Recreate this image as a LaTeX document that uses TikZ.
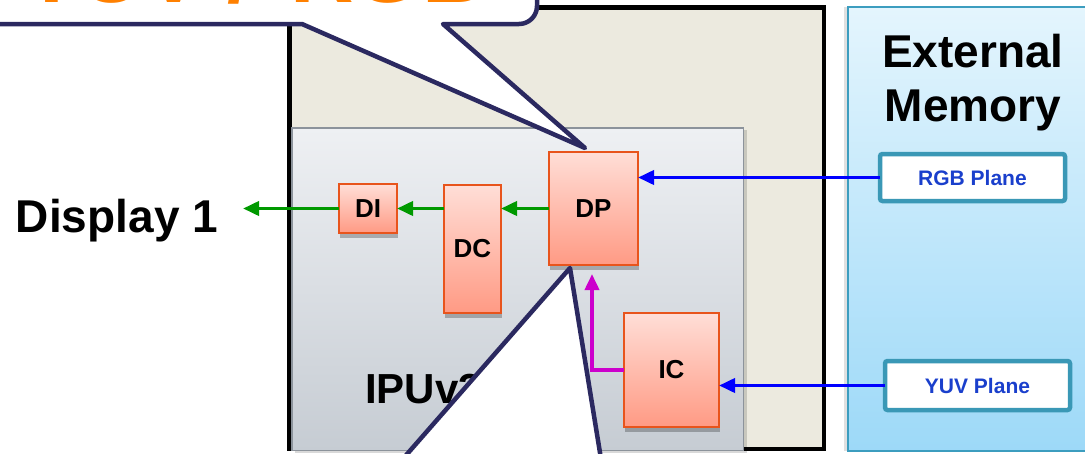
\documentclass[tikz,border=0pt]{standalone}
\usepackage{fontspec}
\setmainfont{Liberation Sans}
\usetikzlibrary{arrows.meta,shadows}

\definecolor{chipfill}{HTML}{ECEADF}
\definecolor{iputop}{HTML}{EEF0F3}
\definecolor{ipubot}{HTML}{C6CCD3}
\definecolor{ipuline}{HTML}{8C939B}
\definecolor{memtop}{HTML}{E4F5FD}
\definecolor{membot}{HTML}{9DD9F8}
\definecolor{memline}{HTML}{3C9DBF}
\definecolor{planeline}{HTML}{3A98B6}
\definecolor{planetext}{HTML}{1A3FCC}
\definecolor{blkline}{HTML}{E8541C}
\definecolor{blktop}{HTML}{FFDED7}
\definecolor{blkbot}{HTML}{FF9A84}
\definecolor{flowblue}{HTML}{0000FF}
\definecolor{flowgreen}{HTML}{009900}
\definecolor{flowmagenta}{HTML}{CC00CC}
\definecolor{calloutline}{HTML}{2B2960}
\definecolor{callouttext}{HTML}{FF8000}

\tikzset{
  every node/.style={outer sep=0pt},
  blk/.style={draw=blkline, line width=1.8pt, top color=blktop, bottom color=blkbot,
    anchor=north west, inner sep=0pt, font=\fontsize{26}{30}\selectfont\bfseries,
    drop shadow={shadow xshift=1pt, shadow yshift=-5pt, fill=black, opacity=.25}},
  plane/.style={draw=planeline, line width=4.5pt, rounded corners=2.5pt, fill=white,
    text=planetext, font=\fontsize{21}{24}\selectfont\bfseries, inner sep=0pt},
  flow/.style={line width=3.7pt, -{Triangle[length=16pt,width=14pt]}},
  callout/.style={draw=calloutline, line width=4.5pt, fill=white, line join=round},
  txt/.style={inner sep=0pt, font=\bfseries},
}

\begin{document}
\begin{tikzpicture}[x=1pt,y=-1pt]
\useasboundingbox (0,0) rectangle (1085,453);

% chip outline
\node[draw=black, line width=4.5pt, fill=chipfill, anchor=north west, inner sep=0pt,
  minimum width=534.5pt, minimum height=441.5pt] (chip) at (289.5,7.5) {};

% IPU block
\node[draw=ipuline, line width=1.5pt, top color=iputop, bottom color=ipubot,
  anchor=north west, inner sep=0pt, minimum width=451.5pt, minimum height=322.5pt,
  drop shadow={shadow xshift=3pt, shadow yshift=-2pt, fill=black, opacity=.15}] (ipu) at (292,128) {};

% external memory
\node[draw=memline, line width=1.5pt, top color=memtop, bottom color=membot,
  anchor=north west, inner sep=0pt, minimum width=247pt, minimum height=444pt,
  drop shadow={shadow xshift=-4pt, shadow yshift=0pt, fill=black, opacity=.12}] (mem) at (848,7) {};

\node[txt, anchor=base, font=\fontsize{46}{53}\selectfont\bfseries] (ext1) at (973,67) {External};
\node[txt, anchor=base, font=\fontsize{46}{53}\selectfont\bfseries] (ext2) at (973,121) {Memory};

\node[plane, minimum width=185pt, minimum height=47pt] (rgb) at (972.5,177.5) {RGB Plane};
\node[plane, minimum width=185pt, minimum height=49pt] (yuv) at (977.5,385.5) {YUV Plane};

% pipeline blocks
\node[blk, minimum width=58pt, minimum height=49pt] (di) at (339,184) {DI};
\node[blk, minimum width=57pt, minimum height=128pt] (dc) at (444,185) {DC};
\node[blk, minimum width=89pt, minimum height=113pt] (dp) at (549,152) {DP};
\node[blk, minimum width=95pt, minimum height=114pt] (ic) at (624,313) {IC};

\node[txt, anchor=base west, font=\fontsize{46}{53}\selectfont\bfseries] (disp) at (16,232) {Display 1};
\node[txt, anchor=base west, font=\fontsize{42}{48}\selectfont\bfseries] (ipulabel) at (365,403) {IPUv3};

% data flow
\coordinate (dispin) at (243,208.5);
\coordinate (magtip) at (592,274);
\draw[flow, color=flowblue] (rgb.west) -- (rgb.west -| dp.east);
\draw[flow, color=flowblue] (yuv.west) -- (yuv.west -| ic.east);
\draw[flow, color=flowgreen] (dp.west) -- (dp.west -| dc.east);
\draw[flow, color=flowgreen] (di.east -| dc.west) -- (di.east);
\draw[flow, color=flowgreen] (di.west) -- (dispin);
\draw[flow, color=flowmagenta] (ic.west) -| (magtip);

% callouts
\path[callout] (-30,24) -- (302,24) -- (585,148) -- (443,24) -- (519,24)
  .. controls (529,24) and (537,16) .. (537,6) -- (537,-60) -- (-30,-60) -- cycle;
\node[txt, anchor=base west, text=callouttext, font=\fontsize{88}{96}\selectfont\bfseries]
  (calltext) at (22,2) {YUV / \hspace{14pt}RGB};
\path[callout] (397.5,465) -- (570,268) -- (602,465);
\end{tikzpicture}
\end{document}
